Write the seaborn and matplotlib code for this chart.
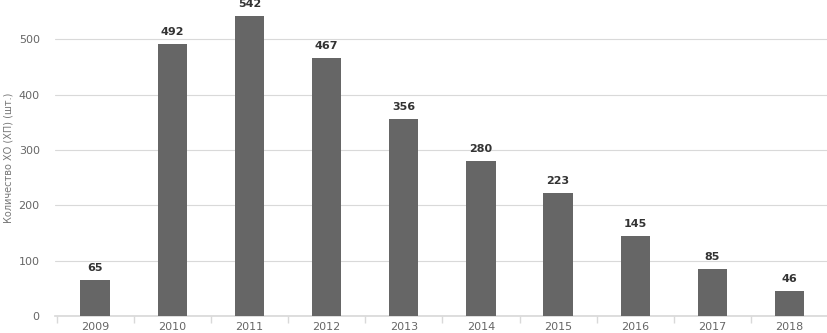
import matplotlib
matplotlib.use("Agg")
import matplotlib.pyplot as plt
import seaborn as sns
import numpy as np

years = ["2009", "2010", "2011", "2012", "2013", "2014", "2015", "2016", "2017", "2018"]
counts = [65, 492, 542, 467, 356, 280, 223, 145, 85, 46]
y_ticks = [0, 100, 200, 300, 400, 500]

sns.set_theme(style="white")
plt.rcParams['font.family'] = ['DejaVu Sans']

fig = plt.figure(figsize=(8.27, 3.33), dpi=100)
ax = fig.add_axes([0.0665, 0.051, 0.935, 0.949])

sns.barplot(x=years, y=counts, color="#666666", width=0.38, saturation=1,
            linewidth=0, ax=ax, zorder=3)

for i, v in enumerate(counts):
    ax.text(i, v + 12, str(v), ha="center", va="bottom", fontsize=8,
            fontweight="bold", color="#333333")

ax.set_ylim(0, 571)
ax.set_xlim(-0.52, 9.5)
ax.set_yticks(y_ticks)
ax.yaxis.grid(True, color="#d9d9d9", linewidth=0.8, zorder=0)
ax.set_axisbelow(True)

for s in ["top", "right", "left"]:
    ax.spines[s].set_visible(False)
ax.spines["bottom"].set_color("#d9d9d9")

ax.set_xticks(np.arange(-0.5, 10, 1), minor=True)
ax.tick_params(axis="x", which="minor", length=5, color="#d9d9d9", direction="out", bottom=True)
ax.tick_params(axis="x", which="major", length=0, labelsize=8, labelcolor="#666666", pad=4)
ax.tick_params(axis="y", length=0, labelsize=8, labelcolor="#666666", pad=11)

ax.set_ylabel("Количество ХО (ХП) (шт.)", fontsize=7, color="#777777", labelpad=4)
ax.set_xlabel("")

fig.savefig("out.png", dpi=100)
